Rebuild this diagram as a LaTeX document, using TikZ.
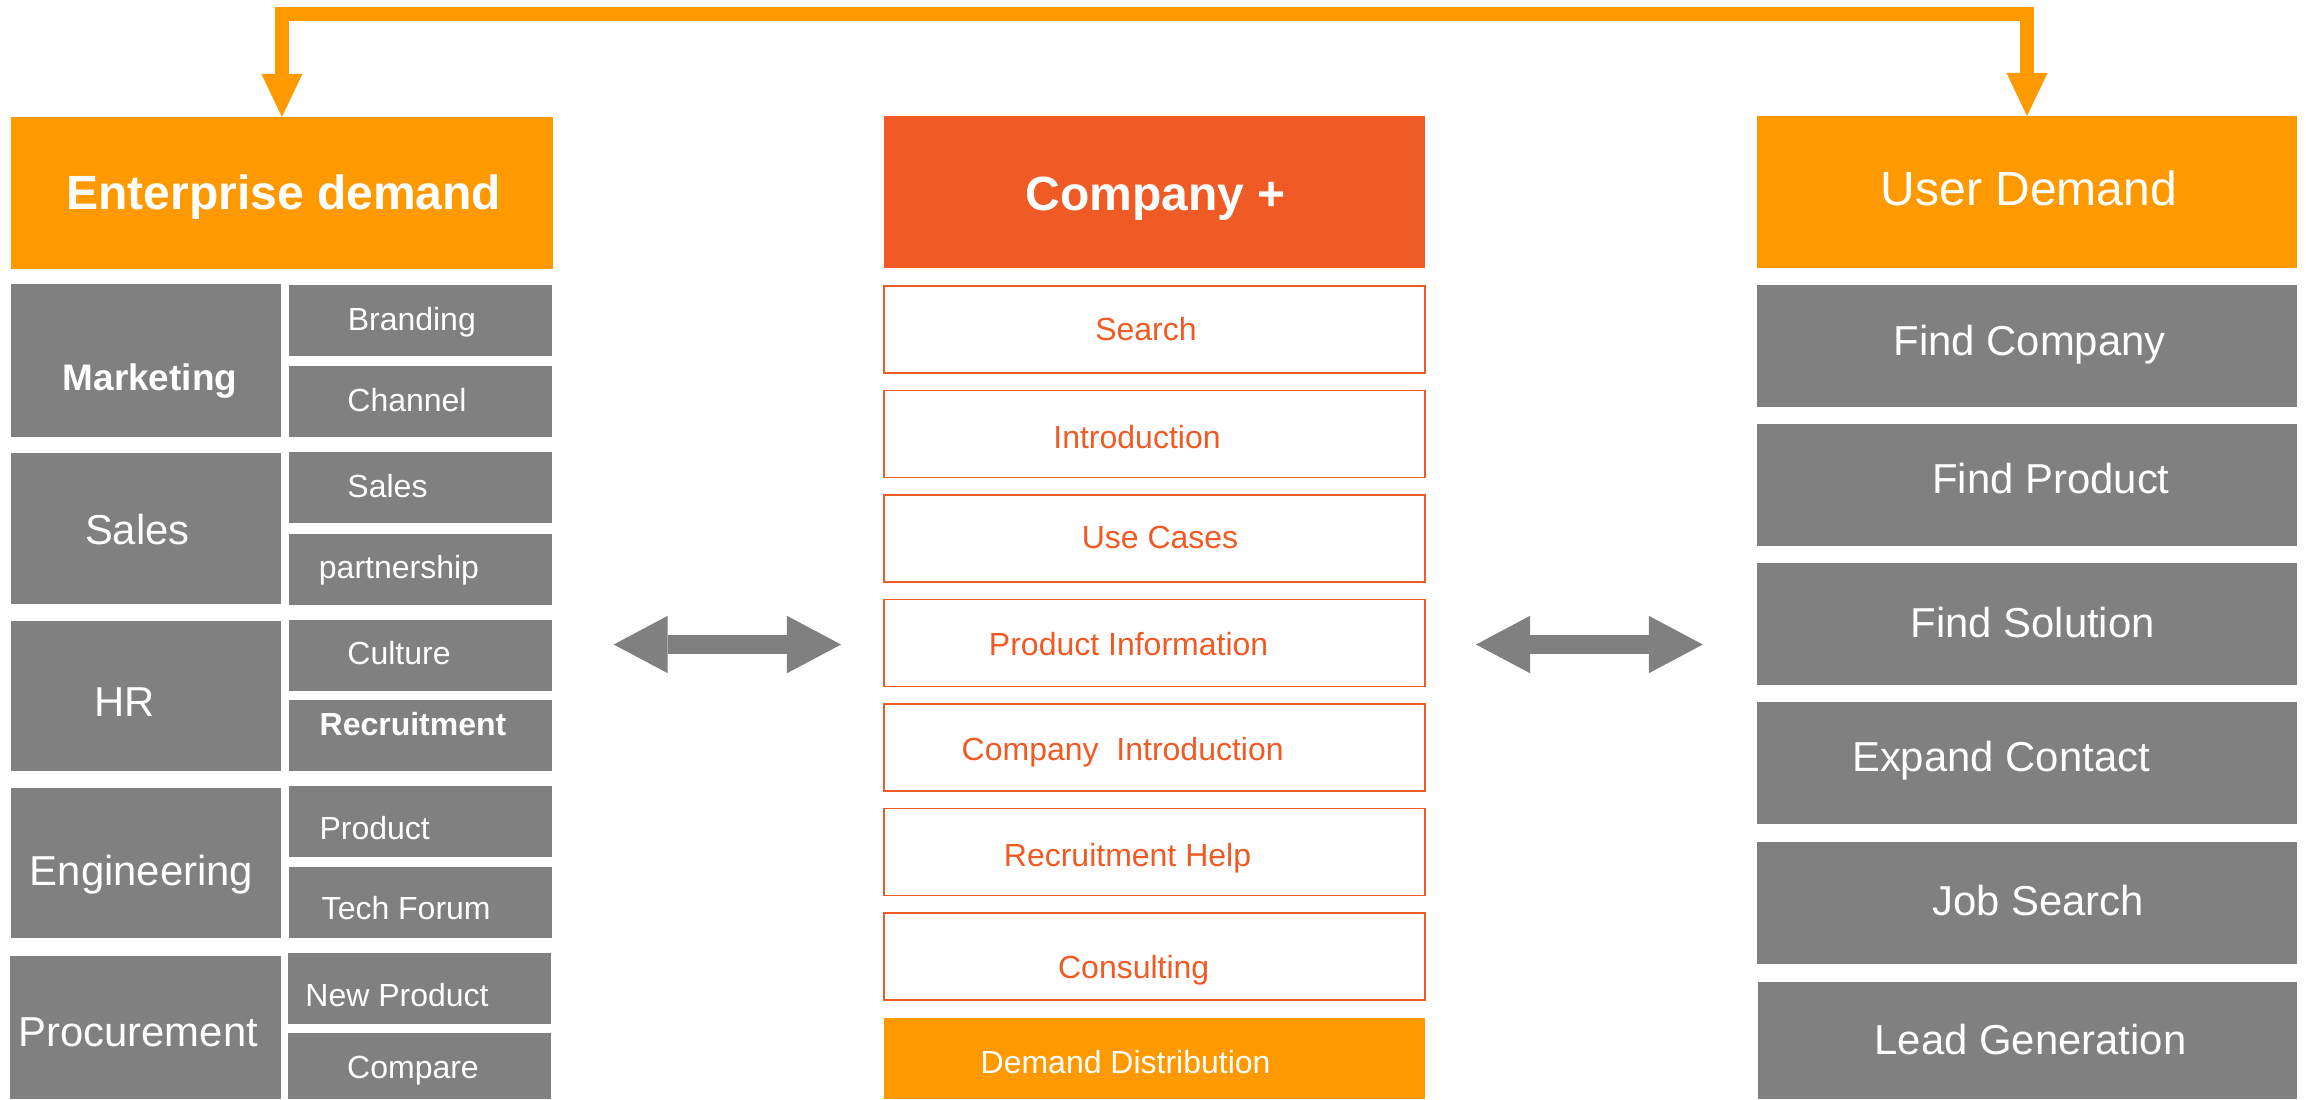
\documentclass[tikz,border=0pt]{standalone}
\usepackage{fontspec}
\setmainfont{Liberation Sans}
\usetikzlibrary{arrows.meta}

\definecolor{demandorange}{HTML}{FF9900}
\definecolor{companyred}{HTML}{F05A24}
\definecolor{boxgrey}{HTML}{808080}

\begin{document}
\begin{tikzpicture}[x=0.01cm, y=-0.01cm,
  box/.style={rectangle, inner sep=0pt, outer sep=0pt},
  headbox/.style={box, fill=demandorange, minimum width=5.41cm, minimum height=1.52cm},
  groupbox/.style={box, fill=boxgrey, minimum width=2.695cm, minimum height=1.51cm},
  subbox/.style={box, fill=boxgrey, minimum width=2.632cm, minimum height=0.707cm},
  userbox/.style={box, fill=boxgrey, minimum width=5.40cm, minimum height=1.22cm},
  featbox/.style={box, draw=companyred, fill=white, line width=0.5pt, minimum width=5.41cm, minimum height=0.87cm},
  txt/.style={anchor=base, inner sep=0pt, text=white},
  bigtxt/.style={txt, font=\fontsize{13.66pt}{16pt}\selectfont},
  midtxt/.style={txt, font=\fontsize{11.9pt}{14pt}\selectfont},
  smalltxt/.style={txt, font=\fontsize{9.1pt}{11pt}\selectfont},
  feattxt/.style={smalltxt, text=companyred},
  flow/.style={draw=demandorange, line width=0.135cm,
    {Triangle[width=0.41cm, length=0.43cm, line width=0pt]}-{Triangle[width=0.41cm, length=0.43cm, line width=0pt]}},
  link/.style={draw=boxgrey, line width=0.19cm,
    {Triangle[width=0.574cm, length=0.54cm, line width=0pt]}-{Triangle[width=0.574cm, length=0.54cm, line width=0pt]}}
  ]
  \useasboundingbox (0,0) rectangle (2306,1099);

  % enterprise side
  \node[headbox] (ent) at (281.9,193) {};
  \node[bigtxt, font=\fontsize{13.66pt}{16pt}\selectfont\bfseries] (entT) at (283.8,209.3) {Enterprise demand};
  \node[groupbox, minimum height=1.527cm] (mkt) at (146.3,360.3) {};
  \node[groupbox] (sal) at (146.3,528.8) {};
  \node[groupbox, minimum height=1.497cm] (hr) at (146.3,695.9) {};
  \node[groupbox, minimum height=1.494cm] (eng) at (146.3,863) {};
  \node[groupbox, minimum width=2.707cm, minimum height=1.43cm] (prc) at (145.7,1027.5) {};
  \node[subbox] (brd) at (420.6,320.4) {};
  \node[subbox] (chn) at (420.6,401.4) {};
  \node[subbox] (sls) at (420.6,487.5) {};
  \node[subbox] (prt) at (420.6,569.3) {};
  \node[subbox] (cul) at (420.6,655.4) {};
  \node[subbox] (rec) at (420.6,735.4) {};
  \node[subbox] (prd) at (420.6,821.4) {};
  \node[subbox] (tch) at (420.6,902.5) {};
  \node[subbox] (npr) at (419.6,988.2) {};
  \node[subbox, minimum height=0.657cm] (cmp) at (419.6,1066.2) {};
  \node[txt, font=\fontsize{10.5pt}{12pt}\selectfont\bfseries] (mktT) at (150,390) {Marketing};
  \node[midtxt] (salT) at (137.4,544.3) {Sales};
  \node[midtxt] (hrT) at (124.4,716) {HR};
  \node[midtxt] (engT) at (141.6,885) {Engineering};
  \node[midtxt] (prcT) at (138.2,1046.7) {Procurement};
  \node[smalltxt] (brdT) at (411.8,330) {Branding};
  \node[smalltxt] (chnT) at (407,411) {Channel};
  \node[smalltxt] (slsT) at (387.5,497.3) {Sales};
  \node[smalltxt] (prtT) at (399,578.3) {partnership};
  \node[smalltxt] (culT) at (399,664) {Culture};
  \node[smalltxt, font=\fontsize{9.1pt}{11pt}\selectfont\bfseries] (recT) at (413,735) {Recruitment};
  \node[smalltxt] (prdT) at (374.7,839.3) {Product};
  \node[smalltxt] (tchT) at (406.2,919) {Tech Forum};
  \node[smalltxt] (nprT) at (397,1006) {New Product};
  \node[smalltxt] (cmpT) at (413,1078.3) {Compare};

  % company column
  \node[headbox, fill=companyred] (comp) at (1154.5,192) {};
  \node[bigtxt, font=\fontsize{13.66pt}{16pt}\selectfont\bfseries] (compT) at (1155.6,210) {Company +};
  \node[featbox] (srch) at (1154.5,329.5) {};
  \node[featbox] (intro) at (1154.5,434) {};
  \node[featbox] (uc) at (1154.5,538.5) {};
  \node[featbox] (pinf) at (1154.5,643) {};
  \node[featbox] (cint) at (1154.5,747.5) {};
  \node[featbox] (rhlp) at (1154.5,852) {};
  \node[featbox] (cons) at (1154.5,956.5) {};
  \node[box, fill=demandorange, minimum width=5.41cm, minimum height=0.815cm] (dd) at (1154.5,1058.3) {};
  \node[feattxt] (srchT) at (1146,340) {Search};
  \node[feattxt] (introT) at (1137,448.3) {Introduction};
  \node[feattxt] (ucT) at (1160,548.3) {Use Cases};
  \node[feattxt] (pinfT) at (1128.6,655) {Product Information};
  \node[feattxt] (cintT) at (1122.7,760.1) {Company\ \ Introduction};
  \node[feattxt] (rhlpT) at (1127.5,866.9) {Recruitment Help};
  \node[feattxt] (consT) at (1133.7,978.9) {Consulting};
  \node[smalltxt] (ddT) at (1125.6,1073.5) {Demand Distribution};

  % user side
  \node[headbox, minimum width=5.40cm, minimum height=1.515cm] (usr) at (2027,191.8) {};
  \node[bigtxt] (usrT) at (2029,205.5) {User Demand};
  \node[userbox] (fc) at (2027,345.9) {};
  \node[userbox] (fp) at (2027,484.7) {};
  \node[userbox] (fs) at (2027,623.8) {};
  \node[userbox] (ec) at (2027,763.4) {};
  \node[userbox] (js) at (2027,902.6) {};
  \node[userbox, minimum width=5.39cm, minimum height=1.175cm] (lg) at (2027.5,1040.3) {};
  \node[midtxt] (fcT) at (2029.7,355.1) {Find Company};
  \node[midtxt] (fpT) at (2051,493.7) {Find Product};
  \node[midtxt] (fsT) at (2032.7,637.6) {Find Solution};
  \node[midtxt] (ecT) at (2001,771.3) {Expand Contact};
  \node[midtxt] (jsT) at (2037.9,915.4) {Job Search};
  \node[midtxt] (lgT) at (2030.5,1054) {Lead Generation};

  % arrows
  \coordinate (topbar) at (1155,13.75);
  \draw[flow] (ent.north) |- (topbar) -| (usr.north);
  \coordinate (la) at (613.7,644.5);
  \coordinate (lb) at (841,644.5);
  \coordinate (ra) at (1476,644.5);
  \coordinate (rb) at (1702.8,644.5);
  \draw[link] (la) -- (lb);
  \draw[link] (ra) -- (rb);
\end{tikzpicture}
\end{document}
